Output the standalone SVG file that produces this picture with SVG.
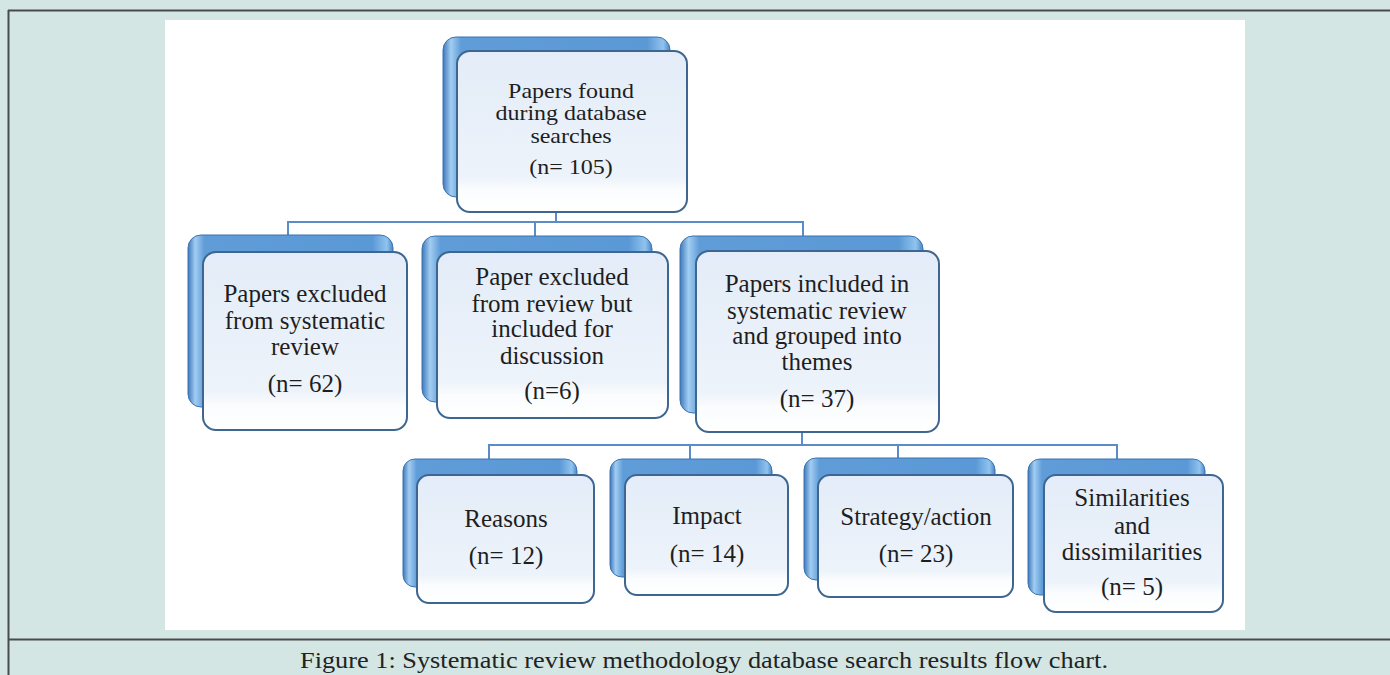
<svg xmlns="http://www.w3.org/2000/svg" width="1390" height="675" viewBox="0 0 1390 675">
<defs>
  <linearGradient id="backGrad" x1="0" y1="0" x2="1" y2="0">
    <stop offset="0" stop-color="#3f78bb"/>
    <stop offset="0.035" stop-color="#a2cdf2"/>
    <stop offset="0.08" stop-color="#5f9cd8"/>
    <stop offset="0.9" stop-color="#5b99d6"/>
    <stop offset="0.97" stop-color="#90c3ee"/>
    <stop offset="1" stop-color="#4a86c6"/>
  </linearGradient>
  <linearGradient id="frontGrad" x1="0" y1="0" x2="0" y2="1">
    <stop offset="0" stop-color="#e3ecf8"/>
    <stop offset="0.78" stop-color="#edf3fa"/>
    <stop offset="0.86" stop-color="#fafcfe"/>
    <stop offset="1" stop-color="#ffffff"/>
  </linearGradient>
  <style>
    .back { fill: url(#backGrad); stroke: #3b73b0; stroke-width: 1; }
    .front { fill: url(#frontGrad); stroke: #3d6690; stroke-width: 2; }
    .lbl { font-family: "Liberation Serif", "Times New Roman", serif; font-size: 25px; fill: #1e1e1e; text-anchor: middle; }
    .sm { font-size: 20px; }
    .conn { fill: none; stroke: #5b8bc8; stroke-width: 2; }
    .frame { stroke: #4a4a4a; stroke-width: 2; fill: none; }
    .cap { font-family: "Liberation Serif", "Times New Roman", serif; font-size: 24px; fill: #222; text-anchor: middle; }
  </style>
</defs>

<rect x="0" y="0" width="1390" height="675" fill="#d3e6e4"/>
<rect x="165" y="20" width="1080" height="610" fill="#ffffff"/>
<line class="frame" x1="8" y1="10.5" x2="1390" y2="10.5"/>
<line class="frame" x1="8.5" y1="10" x2="8.5" y2="675"/>
<line class="frame" x1="8" y1="639.5" x2="1390" y2="639.5"/>
<text class="cap" x="704" y="668" textLength="808" lengthAdjust="spacingAndGlyphs">Figure 1: Systematic review methodology database search results flow chart.</text>

<g id="connectors">
  <polyline class="conn" points="556,212 556,222"/>
  <polyline class="conn" points="288,236 288,222 803,222 803,236"/>
  <polyline class="conn" points="535,222 535,236"/>
  <polyline class="conn" points="802,432 802,445"/>
  <polyline class="conn" points="489,459 489,445 1117,445 1117,459"/>
  <polyline class="conn" points="690,445 690,459"/>
  <polyline class="conn" points="898,445 898,458"/>
</g>

<g id="node-found">
  <rect class="back" x="443" y="37" width="227" height="160" rx="13"/>
  <rect class="front" x="457" y="51" width="230" height="161" rx="13"/>
  <g transform="translate(571,0) scale(1.2,1)">
    <text class="lbl sm" x="0" y="98">Papers found</text>
    <text class="lbl sm" x="0" y="120.5">during database</text>
    <text class="lbl sm" x="0" y="143">searches</text>
    <text class="lbl sm" x="0" y="174">(n= 105)</text>
  </g>
</g>

<g id="node-excluded">
  <rect class="back" x="188" y="235" width="205" height="172" rx="13"/>
  <rect class="front" x="203" y="252" width="204" height="178" rx="13"/>
  <text class="lbl" x="305" y="302">Papers excluded</text>
  <text class="lbl" x="305" y="329">from systematic</text>
  <text class="lbl" x="305" y="355">review</text>
  <text class="lbl" x="305" y="392">(n= 62)</text>
</g>

<g id="node-discussion">
  <rect class="back" x="422" y="236" width="230" height="166" rx="13"/>
  <rect class="front" x="437" y="252" width="231" height="166" rx="13"/>
  <text class="lbl" x="552" y="285">Paper excluded</text>
  <text class="lbl" x="552" y="312">from review but</text>
  <text class="lbl" x="552" y="337">included for</text>
  <text class="lbl" x="552" y="364">discussion</text>
  <text class="lbl" x="552" y="399">(n=6)</text>
</g>

<g id="node-included">
  <rect class="back" x="680" y="236" width="243" height="177" rx="13"/>
  <rect class="front" x="696" y="251" width="243" height="181" rx="13"/>
  <text class="lbl" x="817" y="292">Papers included in</text>
  <text class="lbl" x="817" y="319">systematic review</text>
  <text class="lbl" x="817" y="344">and grouped into</text>
  <text class="lbl" x="817" y="370">themes</text>
  <text class="lbl" x="817" y="407">(n= 37)</text>
</g>

<g id="node-reasons">
  <rect class="back" x="403" y="459" width="174" height="128" rx="12"/>
  <rect class="front" x="417" y="475" width="177" height="128" rx="12"/>
  <text class="lbl" x="506" y="527">Reasons</text>
  <text class="lbl" x="506" y="564">(n= 12)</text>
</g>

<g id="node-impact">
  <rect class="back" x="610" y="459" width="162" height="118" rx="12"/>
  <rect class="front" x="625" y="475" width="163" height="120" rx="12"/>
  <text class="lbl" x="707" y="524">Impact</text>
  <text class="lbl" x="707" y="562">(n= 14)</text>
</g>

<g id="node-strategy">
  <rect class="back" x="804" y="458" width="191" height="122" rx="12"/>
  <rect class="front" x="818" y="475" width="195" height="122" rx="12"/>
  <text class="lbl" x="916" y="525">Strategy/action</text>
  <text class="lbl" x="916" y="562">(n= 23)</text>
</g>

<g id="node-similarities">
  <rect class="back" x="1028" y="459" width="177" height="136" rx="12"/>
  <rect class="front" x="1044" y="475" width="179" height="137" rx="12"/>
  <text class="lbl" x="1132" y="506">Similarities</text>
  <text class="lbl" x="1132" y="534">and</text>
  <text class="lbl" x="1132" y="560">dissimilarities</text>
  <text class="lbl" x="1132" y="595">(n= 5)</text>
</g>
</svg>
